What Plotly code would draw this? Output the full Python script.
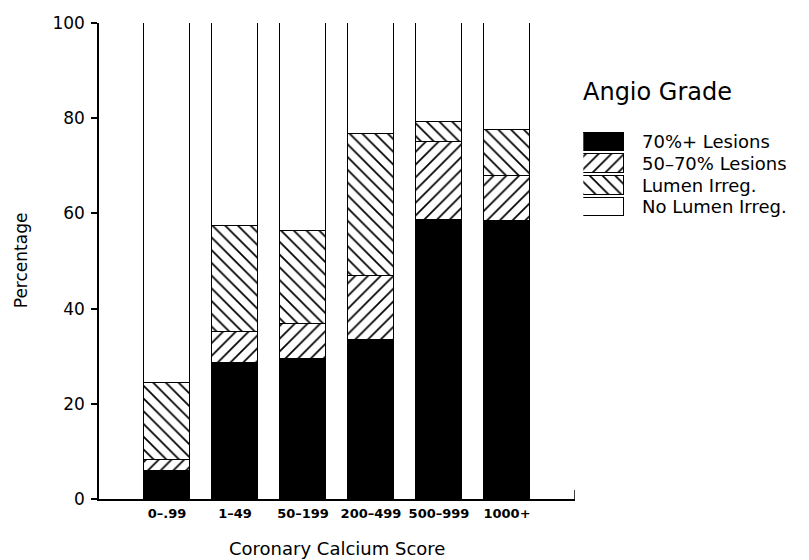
import plotly.graph_objects as go

# Coronary calcium score groups
categories = ["0–.99", "1–49", "50–199", "200–499", "500–999", "1000+"]

# Percentage of patients by angiographic grade (stacked from bottom)
lesions_70_plus = [5.9, 28.6, 29.4, 33.4, 58.6, 58.4]
lesions_50_70 = [2.3, 6.5, 7.3, 13.5, 16.4, 9.5]
lumen_irreg = [16.1, 22.2, 19.6, 29.8, 4.3, 9.7]
no_lumen_irreg = [75.7, 42.7, 43.7, 23.3, 20.7, 22.4]

series_names = ["70%+ Lesions", "50–70% Lesions", "Lumen Irreg.", "No Lumen Irreg."]
y_ticks = [0, 20, 40, 60, 80, 100]

FONT = "DejaVu Sans"
W, H = 809, 560
ML, MR, MT, MB = 99, 20, 22.5, 61
PW = W - ML - MR
PH = H - MT - MB
MAIN_W = 476  # width of the bar panel in px


def hatch(shape):
    return dict(shape=shape, fgcolor="black", bgcolor="white", fgopacity=1,
                size=9, solidity=0.19, fillmode="overlay")


styles = [
    dict(color="black", pattern=None),
    dict(color="white", pattern=hatch("/")),
    dict(color="white", pattern=hatch("\\")),
    dict(color="white", pattern=None),
]
values = [lesions_70_plus, lesions_50_70, lumen_irreg, no_lumen_irreg]

fig = go.Figure()
for name, vals, st in zip(series_names, values, styles):
    marker = dict(color=st["color"], line=dict(color="black", width=1.4))
    if st["pattern"]:
        marker["pattern"] = st["pattern"]
    fig.add_trace(go.Bar(x=categories, y=vals, name=name, width=0.67,
                         marker=marker, showlegend=False, xaxis="x", yaxis="y"))

# Legend swatches drawn as bars on their own small axes
for i, (name, st) in enumerate(zip(series_names, styles)):
    marker = dict(color=st["color"], line=dict(color="black", width=1.4))
    if st["pattern"]:
        marker["pattern"] = st["pattern"]
    fig.add_trace(go.Bar(x=[1], y=[i], base=0, orientation="h", width=0.86,
                         marker=marker, showlegend=False, hoverinfo="skip",
                         xaxis="x2", yaxis="y2"))


def px_to_paper_x(px):
    return (px - ML) / PW


def px_to_paper_y(py):
    return (H - MB - py) / PH


row_top, row_bot = 130.6, 217.4
annotations = []
for i, name in enumerate(series_names):
    annotations.append(dict(x=px_to_paper_x(640), y=i, xref="paper", yref="y2",
                            text=name, showarrow=False, xanchor="left", yanchor="middle",
                            font=dict(family=FONT, size=18, color="black")))
annotations.append(dict(x=px_to_paper_x(581), y=px_to_paper_y(92), xref="paper", yref="paper",
                        text="Angio Grade", showarrow=False, xanchor="left", yanchor="middle",
                        font=dict(family=FONT, size=24, color="black")))
annotations.append(dict(x=px_to_paper_x(99 + MAIN_W / 2), y=px_to_paper_y(549), xref="paper",
                        yref="paper", text="Coronary Calcium Score", showarrow=False,
                        xanchor="center", yanchor="middle",
                        font=dict(family=FONT, size=18, color="black")))
annotations.append(dict(x=px_to_paper_x(21), y=px_to_paper_y(260), xref="paper", yref="paper",
                        text="Percentage", showarrow=False, textangle=-90,
                        xanchor="center", yanchor="middle",
                        font=dict(family=FONT, size=17, color="black")))

fig.update_layout(
    width=W, height=H,
    margin=dict(l=ML, r=MR, t=MT, b=MB, pad=0),
    paper_bgcolor="white", plot_bgcolor="white",
    barmode="stack", bargap=0,
    font=dict(family=FONT, color="black"),
    annotations=annotations,
    xaxis=dict(domain=[0, MAIN_W / PW], range=[-1, 6], type="category",
               showline=True, linecolor="black", linewidth=1.5, ticks="",
               showgrid=False, zeroline=False, ticklabelstandoff=2,
               tickfont=dict(family=FONT, size=13, color="black", weight="bold")),
    yaxis=dict(domain=[0, 1], range=[0, 100], tickvals=y_ticks,
               showline=True, linecolor="black", linewidth=1.5,
               ticks="outside", ticklen=6, tickwidth=1.5, tickcolor="black",
               showgrid=False, zeroline=False, ticklabelstandoff=3,
               tickfont=dict(family=FONT, size=17, color="black")),
    xaxis2=dict(domain=[px_to_paper_x(583.3), px_to_paper_x(624.3)], range=[0, 1],
                anchor="y2", visible=False, fixedrange=True),
    yaxis2=dict(domain=[px_to_paper_y(row_bot), px_to_paper_y(row_top)], range=[3.5, -0.5],
                anchor="x2", visible=False, fixedrange=True),
    shapes=[dict(type="line", xref="x", yref="y", x0=6, x1=6, y0=0, y1=1.9,
                 line=dict(color="black", width=1.5))],
)

fig.write_html("out.html")
